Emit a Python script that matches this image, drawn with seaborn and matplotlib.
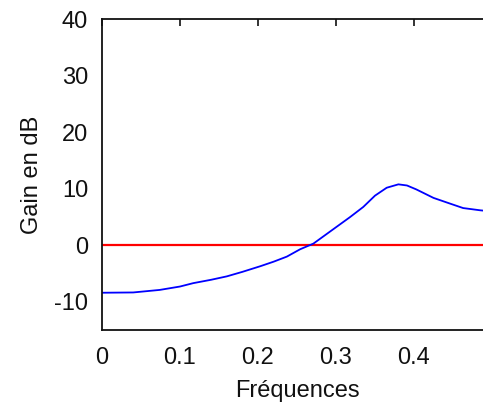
import numpy as np
import pandas as pd
import seaborn as sns
import matplotlib.pyplot as plt

# valeurs
freq = [0.0, 0.040, 0.074, 0.100, 0.117, 0.140, 0.160, 0.180, 0.203, 0.220,
        0.237, 0.254, 0.271, 0.297, 0.318, 0.335, 0.350, 0.365, 0.380, 0.391,
        0.403, 0.425, 0.446, 0.463, 0.485, 0.5]
gain = [-8.4, -8.35, -7.9, -7.3, -6.7, -6.1, -5.5, -4.7, -3.7, -2.9,
        -2.0, -0.7, 0.3, 2.9, 5.0, 6.8, 8.8, 10.2, 10.8, 10.6,
        9.9, 8.4, 7.4, 6.6, 6.2, 6.0]
seuil_x = [0.0, 0.5]
seuil_y = [0.0, 0.0]
xticks = [0, 0.1, 0.2, 0.3, 0.4]
xlabels = ['0', '0.1', '0.2', '0.3', '0.4']
yticks = [-10, 0, 10, 20, 30, 40]

sns.set_style('white')
plt.rcParams['font.family'] = ['Liberation Sans', 'DejaVu Sans']
plt.rcParams['axes.unicode_minus'] = False

df = pd.DataFrame({'f': freq, 'g': gain})

fig = plt.figure(figsize = (4.83, 4.12), dpi = 100, facecolor = 'white')
ax = fig.add_axes([102/483, 82/412, 390/483, 310.5/412])

sns.lineplot(x = seuil_x, y = seuil_y, color = '#ff0000', linewidth = 1.6, ax = ax)
sns.lineplot(data = df, x = 'f', y = 'g', color = '#0000ff', linewidth = 1.3, ax = ax)

ax.set_xlim(0, 0.5)
ax.set_ylim(-15, 40)
ax.set_xticks(xticks)
ax.set_xticklabels(xlabels)
ax.set_yticks(yticks)
ax.tick_params(axis = 'both', direction = 'in', length = 5, width = 1.2,
               labelsize = 17, colors = '#111111', top = True, right = True)
ax.tick_params(axis = 'x', pad = 12)
ax.tick_params(axis = 'y', pad = 10)
for s in ax.spines.values():
    s.set_color('#111111')
    s.set_linewidth(1.3)

ax.set_xlabel('Fréquences', fontsize = 17, color = '#111111', labelpad = 8)
ax.set_ylabel('Gain en dB', fontsize = 17, color = '#111111', labelpad = 8)

plt.savefig('out.png', dpi = 100, facecolor = 'white')
